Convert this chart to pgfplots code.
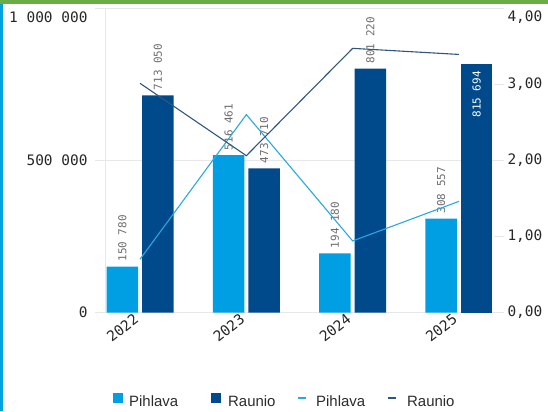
\documentclass[border=0pt]{standalone}
\usepackage{fontspec}
\setmainfont{Liberation Sans}
\newfontfamily\plexmono{DejaVu Sans Mono}
\usepackage{pgfplots}
\pgfplotsset{compat=1.18}
\definecolor{pih}{HTML}{009FE3}
\definecolor{rau}{HTML}{004A8C}
\definecolor{pihline}{HTML}{2AA8E0}
\definecolor{rauline}{HTML}{2F5680}
\definecolor{topgreen}{HTML}{6AAD45}
\definecolor{leftcyan}{HTML}{00A3E0}
\definecolor{gridc}{HTML}{E8E8E8}
\definecolor{lblgray}{HTML}{6E6E6E}
\definecolor{tickc}{HTML}{262626}
\definecolor{legc}{HTML}{2B2B2B}

\pgfplotstableread{
x pihlava
0 150780
1 516461
2 194180
3 308557
}\pihdata

\pgfplotstableread{
x raunio
0 713050
1 473710
2 801220
}\raudata

\pgfplotstableread{
x raunio
3 815694
}\rauinside

\pgfplotstableread{
x pihlava raunio
0 0.70 3.01
1 2.60 2.06
2 0.94 3.47
3 1.46 3.39
}\linedata

\begin{document}
\begin{tikzpicture}[x=1bp,y=1bp]
\path (0,0) rectangle (548,411);
\fill[topgreen] (0,407) rectangle (548,411);
\fill[leftcyan] (0,0) rectangle (3,407);
\begin{axis}[
  at={(105bp,98.5bp)}, anchor=south west,
  scale only axis, width=389bp, height=304.5bp,
  xmin=-0.33, xmax=3.33, ymin=0, ymax=1000000,
  xtick={0,1,2,3}, xticklabels={2022,2023,2024,2025},
  xticklabel style={yshift=12bp, xshift=-7bp, rotate=38, anchor=north east, font=\plexmono\fontsize{14.5}{16}\selectfont, text=tickc, inner sep=1.5bp},
  xtick style={draw=none},
  ytick={0,500000}, yticklabels={0,500 000},
  extra y ticks={1000000}, extra y tick labels={1 000 000},
  extra y tick style={yticklabel style={yshift=-9bp}},
  yticklabel style={font=\plexmono\fontsize{14.5}{16}\selectfont, text=tickc, xshift=-4bp},
  scaled y ticks=false,
  ymajorgrids, major grid style={gridc, line width=0.8bp},
  axis x line*=bottom, axis y line*=left,
  axis line style={gridc, line width=0.8bp},
  ytick style={gridc, line width=0.8bp}, major tick length=10bp, tick align=outside,
  nodes near coords={\pgfmathprintnumber[fixed, precision=0, 1000 sep={\ }, assume math mode=true]{\pgfplotspointmeta}},
  every node near coord/.append style={inner sep=5bp,
     font=\plexmono\fontsize{11}{12}\selectfont, text=lblgray},
]
\addplot[ybar, bar width=31.5bp, bar shift=-17.75bp, fill=pih, draw=none,
  every node near coord/.append style={xshift=-17.75bp, rotate=90, anchor=west}]
  table[x=x, y=pihlava] {\pihdata};
\addplot[ybar, bar width=31.5bp, bar shift=17.75bp, fill=rau, draw=none,
  every node near coord/.append style={xshift=17.75bp, rotate=90, anchor=west}]
  table[x=x, y=raunio] {\raudata};
\addplot[ybar, bar width=31.5bp, bar shift=17.75bp, fill=rau, draw=none,
  every node near coord/.append style={xshift=17.75bp, rotate=90, anchor=east, text=white, inner sep=7bp}]
  table[x=x, y=raunio] {\rauinside};
\end{axis}
\begin{axis}[
  at={(105bp,98.5bp)}, anchor=south west,
  scale only axis, width=389bp, height=304.5bp,
  xmin=-0.33, xmax=3.33, ymin=0, ymax=4,
  axis x line=none, axis y line*=right,
  axis line style={draw=none},
  ytick={0,1,2,3}, yticklabels={0{,}00,1{,}00,2{,}00,3{,}00},
  extra y ticks={4}, extra y tick labels={4{,}00},
  extra y tick style={yticklabel style={yshift=-9bp}},
  yticklabel style={font=\plexmono\fontsize{14.5}{16}\selectfont, text=tickc},
  ytick style={gridc, line width=0.8bp}, major tick length=10bp, tick align=outside,
]
\addplot[pihline, line width=1.1bp, mark=none] table[x=x, y=pihlava] {\linedata};
\addplot[rauline, line width=1.1bp, mark=none] table[x=x, y=raunio] {\linedata};
\end{axis}
% legend
\begin{scope}[every node/.style={anchor=base west, inner sep=0pt, font=\fontsize{15}{17}\selectfont, text=legc}]
\fill[pih] (113,8) rectangle (123,18);
\node at (129,5) {Pihlava};
\fill[rau] (211,8) rectangle (221,18);
\node at (228,5) {Raunio};
\draw[pihline, line width=1.6bp] (298,13) -- (306,13);
\node at (316,5) {Pihlava};
\draw[rauline, line width=1.6bp] (388,13) -- (396,13);
\node at (407,5) {Raunio};
\end{scope}
\end{tikzpicture}
\end{document}
